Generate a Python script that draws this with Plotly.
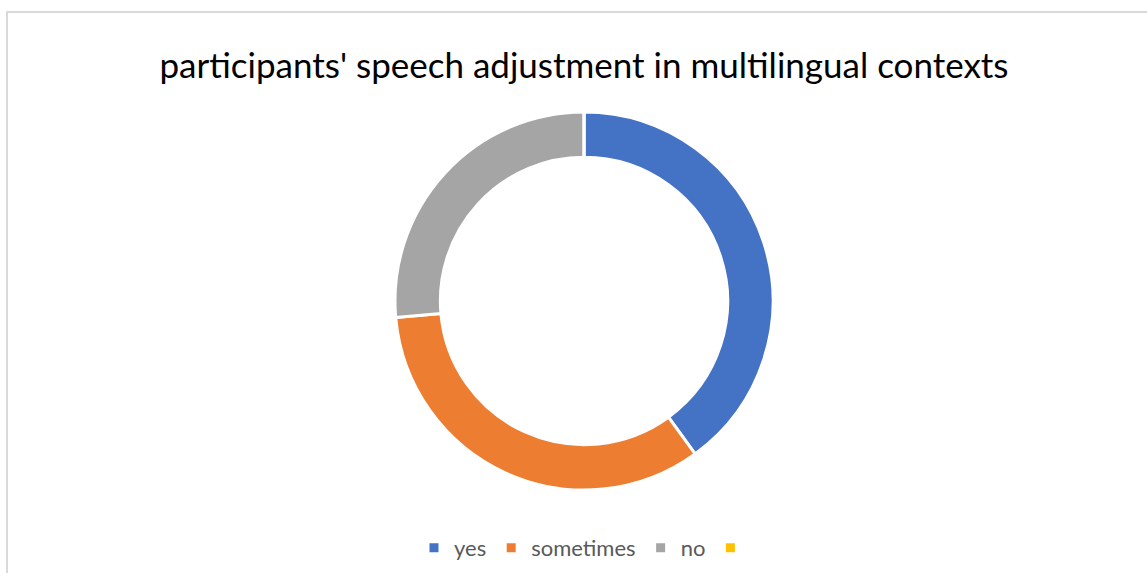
import plotly.graph_objects as go

# Survey responses (counts)
labels = ["yes", "sometimes", "no", " "]
counts = [50, 42, 33, 0]
colors = ["#4472C4", "#ED7D31", "#A5A5A5", "#FFC000"]

W, H = 1147, 573
cx, cy, r = 584, 301, 189

fig = go.Figure(
    go.Pie(
        labels=labels,
        values=counts,
        hole=0.76,
        sort=False,
        direction="clockwise",
        rotation=0,
        textinfo="none",
        hoverinfo="label+value+percent",
        marker=dict(colors=colors, line=dict(color="white", width=3)),
        domain=dict(x=[(cx - r) / W, (cx + r) / W],
                    y=[(H - cy - r) / H, (H - cy + r) / H]),
        showlegend=True,
    )
)

fig.update_layout(
    width=W,
    height=H,
    margin=dict(l=0, r=0, t=0, b=0),
    paper_bgcolor="white",
    plot_bgcolor="white",
    font=dict(family="Lato, Open Sans, sans-serif", color="#595959"),
    title=dict(
        text="participants' speech adjustment in multilingual contexts",
        x=584 / W, xanchor="center",
        y=1 - 66 / H, yanchor="middle",
        yref="container",
        font=dict(size=35, color="#000000", family="Lato, Open Sans, sans-serif"),
    ),
    legend=dict(
        orientation="h",
        x=588 / W, xanchor="center",
        y=1 - 548 / H, yanchor="middle",
        font=dict(size=22, color="#595959"),
        itemwidth=30,
        traceorder="normal",
    ),
    shapes=[
        dict(type="rect", xref="paper", yref="paper",
             x0=7 / W, x1=1.05, y0=-0.05, y1=1 - 12 / H,
             line=dict(color="#D9D9D9", width=2), fillcolor="rgba(0,0,0,0)", layer="below"),
    ],
)

fig.write_html("out.html")
